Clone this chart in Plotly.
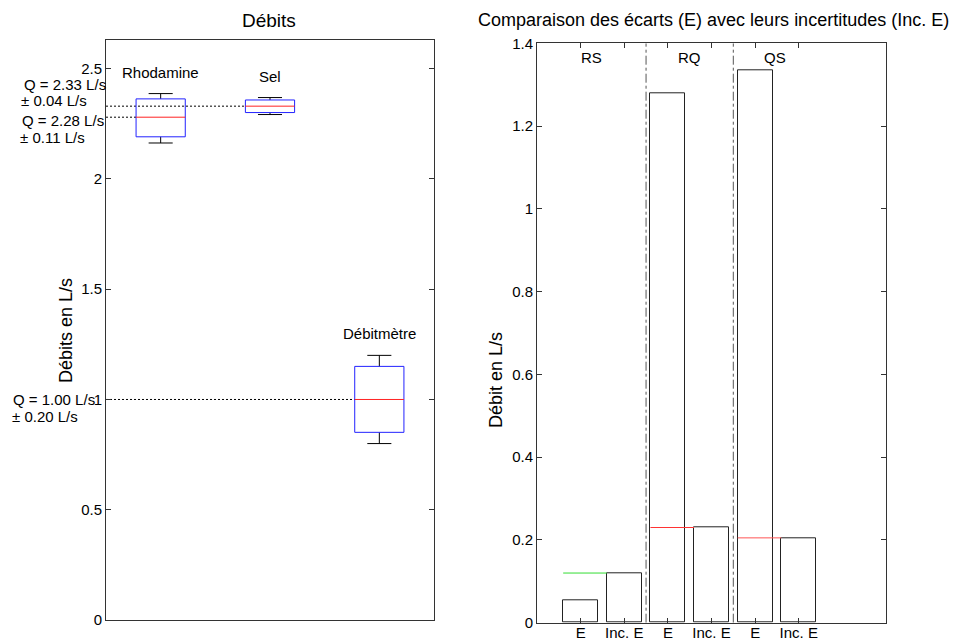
import plotly.graph_objects as go

# Left panel: box statistics (L/s)
box_names = ["Rhodamine", "Sel", "Débitmètre"]
box_pos = [1, 2, 3]
box_low = [2.163, 2.292, 0.80]
box_q1 = [2.191, 2.301, 0.851]
box_med = [2.28, 2.33, 1.00]
box_q3 = [2.363, 2.358, 1.150]
box_high = [2.387, 2.369, 1.20]
q_text = [("Q = 2.28 L/s", "± 0.11 L/s"), ("Q = 2.33 L/s", "± 0.04 L/s"), ("Q = 1.00 L/s", "± 0.20 L/s")]

# Right panel: écarts and incertitudes
bar_pos = [1, 2, 3, 4, 5, 6]
bar_labels = ["E", "Inc. E", "E", "Inc. E", "E", "Inc. E"]
bar_vals = [0.055, 0.12, 1.28, 0.23, 1.335, 0.205]
groups = ["RS", "RQ", "QS"]
group_x = [1.25, 3.5, 5.45]
ref_colors = ["#33dd33", "#ff3333", "#ff5555"]

FONT = "Arial, Liberation Sans, sans-serif"
BW = 0.45   # box width in data units
CAP = 0.22
OFF = 8     # page body margin


def px(x):
    return (x - OFF) / 960


def py(y):
    return 1 - (y - OFF) / 640


fig = go.Figure()

# boxes drawn as line paths: blue box, black whiskers, red median, dotted guide
bx, by, wx, wy, mx, my, dx, dy = [], [], [], [], [], [], [], []
for p, lo, a, m, b, hi in zip(box_pos, box_low, box_q1, box_med, box_q3, box_high):
    l, r = p - BW / 2, p + BW / 2
    bx += [l, r, r, l, l, None]
    by += [a, a, b, b, a, None]
    wx += [p, p, None, p, p, None, p - CAP / 2, p + CAP / 2, None, p - CAP / 2, p + CAP / 2, None]
    wy += [b, hi, None, a, lo, None, hi, hi, None, lo, lo, None]
    mx += [l, r, None]
    my += [m, m, None]
    dx += [0.5, l, None]
    dy += [m, m, None]
fig.add_trace(go.Scatter(x=dx, y=dy, mode="lines", line=dict(color="black", width=1, dash="2px,2px"),
                         xaxis="x", yaxis="y", showlegend=False, hoverinfo="skip"))
fig.add_trace(go.Scatter(x=wx, y=wy, mode="lines", line=dict(color="black", width=1),
                         xaxis="x", yaxis="y", showlegend=False, hoverinfo="skip"))
fig.add_trace(go.Scatter(x=bx, y=by, mode="lines", line=dict(color="#2222ff", width=1),
                         xaxis="x", yaxis="y", showlegend=False, hoverinfo="skip"))
fig.add_trace(go.Scatter(x=mx, y=my, mode="lines", line=dict(color="#ff2222", width=1),
                         xaxis="x", yaxis="y", showlegend=False, hoverinfo="skip"))

# Right panel bars
fig.add_trace(go.Bar(x=bar_pos, y=bar_vals, width=0.8, marker=dict(color="white", line=dict(color="#222", width=1)),
                     xaxis="x2", yaxis="y2", showlegend=False, hoverinfo="skip"))
for g in range(3):
    e = bar_pos[2 * g]
    inc = bar_vals[2 * g + 1]
    fig.add_trace(go.Scatter(x=[e - 0.4, e + 0.6], y=[inc, inc], mode="lines",
                             line=dict(color=ref_colors[g], width=1),
                             xaxis="x2", yaxis="y2", showlegend=False, hoverinfo="skip"))
for sx in [2.5, 4.5]:
    fig.add_trace(go.Scatter(x=[sx, sx], y=[0, 1.4], mode="lines",
                             line=dict(color="#555", width=1, dash="dashdot"),
                             xaxis="x2", yaxis="y2", showlegend=False, hoverinfo="skip"))

ann = []
for name, p, hi in zip(box_names, box_pos, box_high):
    ann.append(dict(x=p, y=hi, xref="x", yref="y", text=name, showarrow=False,
                    yanchor="bottom", yshift=11, font=dict(size=15)))
# Q labels left of the axis (pixel positions)
q_rows = [(20, 120, q_text[0][0]), (18, 137, q_text[0][1]), (22, 84, q_text[1][0]), (19, 101, q_text[1][1]),
          (11, 399, q_text[2][0]), (10, 416, q_text[2][1])]
for x0, y0, t in q_rows:
    ann.append(dict(x=px(x0), y=py(y0), xref="paper", yref="paper", text=t, showarrow=False,
                    xanchor="left", yanchor="middle", font=dict(size=15)))
for g, gx in zip(groups, group_x):
    ann.append(dict(x=gx, y=1.365, xref="x2", yref="y2", text=g, showarrow=False, font=dict(size=15)))
ann.append(dict(x=px(269), y=py(20), xref="paper", yref="paper", text="Débits", showarrow=False,
                xanchor="center", yanchor="middle", font=dict(size=19)))
ann.append(dict(x=px(713), y=py(20), xref="paper", yref="paper",
                text="Comparaison des écarts (E) avec leurs incertitudes (Inc. E)",
                showarrow=False, xanchor="center", yanchor="middle", font=dict(size=18)))
ann.append(dict(x=px(66), y=py(331), xref="paper", yref="paper", text="Débits en L/s", textangle=-90,
                showarrow=False, xanchor="center", yanchor="middle", font=dict(size=18)))
ann.append(dict(x=px(496), y=py(380), xref="paper", yref="paper", text="Débit en L/s", textangle=-90,
                showarrow=False, xanchor="center", yanchor="middle", font=dict(size=18)))

axis_common = dict(showline=True, linecolor="#333", linewidth=1, mirror="ticks", ticks="inside",
                   ticklen=5, tickcolor="#333", showgrid=False, zeroline=False, automargin=False,
                   tickfont=dict(size=15, color="black"))

fig.update_layout(
    width=960, height=640, margin=dict(l=0, r=0, t=0, b=0, autoexpand=False),
    paper_bgcolor="white", plot_bgcolor="white",
    font=dict(family=FONT, color="black"),
    showlegend=False, annotations=ann, bargap=0,
    xaxis=dict(domain=[px(106), px(434)], range=[0.5, 3.5], showticklabels=False, automargin=False,
               showline=True, linecolor="#333", mirror=True, ticks="", showgrid=False, zeroline=False),
    yaxis=dict(domain=[py(620), py(40)], range=[0, 2.63], tickvals=[0, 0.5, 1, 1.5, 2, 2.5],
               ticktext=["0", "0.5", "1", "1.5", "2", "2.5"], **axis_common),
    xaxis2=dict(domain=[px(537), px(886)], range=[0, 8], tickvals=bar_pos, ticktext=bar_labels,
                anchor="y2", ticklabelstandoff=-4, **axis_common),
    yaxis2=dict(domain=[py(622.7), py(43.3)], range=[0, 1.4], anchor="x2",
                tickvals=[0, 0.2, 0.4, 0.6, 0.8, 1, 1.2, 1.4],
                ticktext=["0", "0.2", "0.4", "0.6", "0.8", "1", "1.2", "1.4"], **axis_common),
)

fig.write_html("out.html")
